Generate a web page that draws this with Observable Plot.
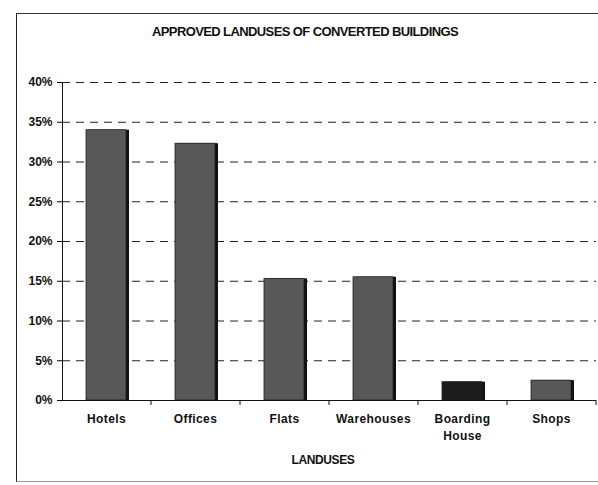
<!DOCTYPE html>
<html>
<head>
<meta charset="utf-8">
<script src="https://cdn.jsdelivr.net/npm/d3@7"></script>
<script src="https://cdn.jsdelivr.net/npm/@observablehq/plot@0.6"></script>
<style>
  html, body { margin: 0; padding: 0; background: #fff; }
  #wrap { position: relative; width: 598px; height: 485px; overflow: hidden; font-family: "Liberation Sans", Arial, sans-serif; }
  #frame { position: absolute; left: 16px; top: 13px; width: 590px; height: 469px; border-left: 1.5px solid #222; border-top: 1.5px solid #333; border-bottom: 1px solid #999; box-sizing: border-box; }
  #title { position: absolute; left: 0; width: 610px; top: 24px; text-align: center; font-weight: bold; font-size: 13px; letter-spacing: -0.6px; color: #111; }
  #xtitle { position: absolute; left: 0; width: 646px; top: 453px; text-align: center; font-weight: bold; font-size: 12px; letter-spacing: -0.4px; color: #111; }
  #chart { position: absolute; left: 0; top: 0; }
  #chart g[aria-label="x-axis tick label"] text { letter-spacing: 0.4px; }
</style>
</head>
<body>
<div id="wrap">
  <div id="frame"></div>
  <div id="chart"></div>
  <div id="title">APPROVED LANDUSES OF CONVERTED BUILDINGS</div>
  <div id="xtitle">LANDUSES</div>
</div>
<script>
const categories = ["Hotels", "Offices", "Flats", "Warehouses", "Boarding House", "Shops"];
const values = [0.34, 0.323, 0.153, 0.155, 0.023, 0.025];
const yTicks = [0, 0.05, 0.10, 0.15, 0.20, 0.25, 0.30, 0.35, 0.40];

const data = categories.map((c, i) => ({cat: c, value: values[i]}));
const W = 598, H = 485;
const mL = 62, mR = 2;
const step = (W - mL - mR) / categories.length;

const chart = Plot.plot({
  width: W,
  height: H,
  marginTop: 82,
  marginBottom: 85,
  marginLeft: mL,
  marginRight: mR,
  style: {fontFamily: "'Liberation Sans', Arial, sans-serif", background: "transparent", overflow: "visible"},
  x: {domain: categories, paddingInner: 0.55, paddingOuter: 0.275, label: null},
  y: {domain: [0, 0.40], label: null},
  marks: [
    Plot.ruleY(yTicks.filter(t => t > 0), {stroke: "#222", strokeWidth: 1.1, strokeDasharray: "8,6"}),
    Plot.barY(data, {x: "cat", y: "value", fill: "#111", dx: 3}),
    Plot.barY(data, {x: "cat", y: "value", fill: d => d.cat === "Boarding House" ? "#1c1c1c" : "#585858", stroke: "#222", strokeWidth: 0.8}),
    Plot.ruleY([0], {stroke: "#111", strokeWidth: 1}),
    Plot.ruleX(categories, {x: d => d, dx: step / 2, y: 0, stroke: "#111", insetTop: 0, insetBottom: -5}),
    Plot.frame({anchor: "left", stroke: "#111"}),
    Plot.axisY({ticks: yTicks, tickFormat: d => Math.round(d * 100) + "%", tickSize: 5, tickPadding: 5, fontSize: 12, fontWeight: "bold", fill: "#111", label: null}),
    Plot.axisX({tickSize: 0, tickPadding: 10, fontSize: 12, fontWeight: "bold", fill: "#111", lineHeight: 1.45,
      tickFormat: d => d === "Boarding House" ? "Boarding\nHouse" : d, label: null})
  ]
});
document.getElementById("chart").appendChild(chart);
</script>
</body>
</html>
